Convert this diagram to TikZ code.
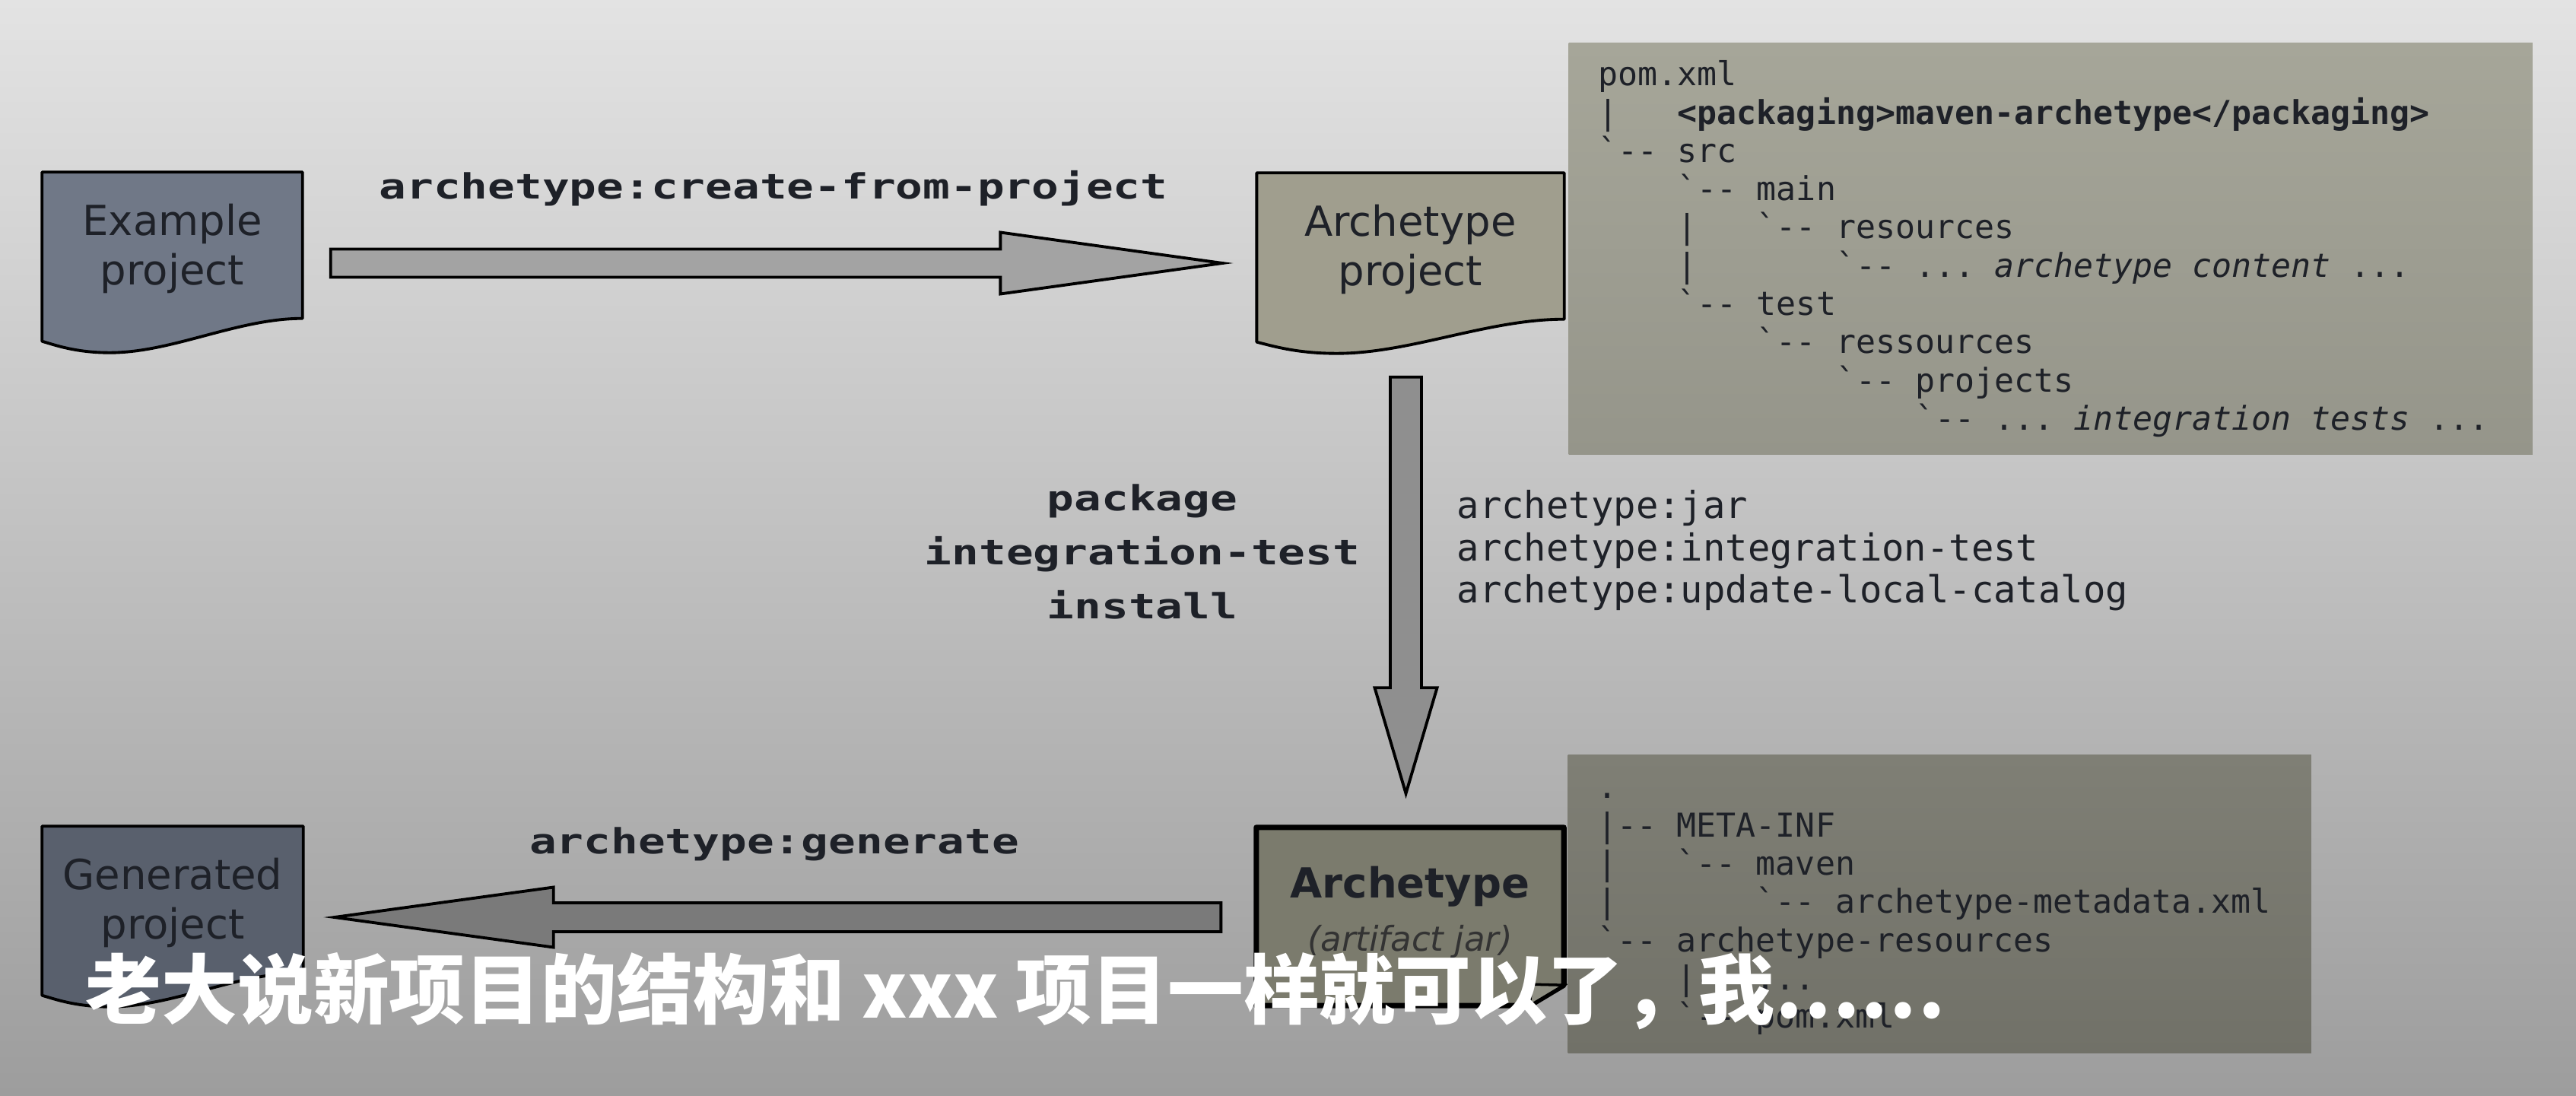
\documentclass[tikz,border=0pt]{standalone}
\usepackage{fontspec}
\setmainfont{DejaVu Sans}
\setmonofont{DejaVu Sans Mono}
\newfontfamily\cmdfont{DejaVu Sans Mono}
\newfontfamily\goalfont{DejaVu Sans Mono}[FakeStretch=1.3]
\newfontfamily\cjk{Noto Sans CJK SC}
\usetikzlibrary{calc,backgrounds}
\definecolor{bgtop}{HTML}{E3E3E3}
\definecolor{bgbot}{HTML}{9D9D9D}
\definecolor{ink}{HTML}{1E2128}
\definecolor{exfill}{HTML}{707887}
\definecolor{gpfill}{HTML}{59606D}
\definecolor{apfill}{HTML}{A09E8E}
\definecolor{arfill}{HTML}{7B7B6D}
\definecolor{cbatop}{HTML}{A6A699}
\definecolor{cbabot}{HTML}{95958A}
\definecolor{cbbtop}{HTML}{7F7F75}
\definecolor{cbbbot}{HTML}{717168}

% n character cells of the monospaced font
\newcommand\sk[1]{\hspace*{#1\fontcharwd\font`0}}
% outline of a document shape with a wavy bottom
\newcommand\docpath[2]{%
  \draw[docline,fill=#2] ($(#1.south west)+(0,0.21)$) -- (#1.north west) -- (#1.north east)
    -- ($(#1.south east)+(0,-0.09)$)
    .. controls ($(#1.south west)!0.75!(#1.south east)+(0,-0.09)$) and ($(#1.south west)!0.5!(#1.south east)+(0,0.36)$)
    .. ($(#1.south west)!0.26!(#1.south east)+(0,0.36)$)
    .. controls ($(#1.south west)!0.13!(#1.south east)+(0,0.36)$) and ($(#1.south west)!0.05!(#1.south east)+(0,0.26)$)
    .. ($(#1.south west)+(0,0.21)$) -- cycle;}
% block arrow: start, tip, half shaft, half head, head length, fill
\newcommand\blockarrow[6]{%
  \path (#2) coordinate (tip) ($(#2)!#5!(#1)$) coordinate (base);
  \draw[arrowline,fill=#6] ($(#1)!#3!90:(#2)$) -- ($(base)!#3!90:(tip)$) -- ($(base)!#4!90:(tip)$)
    -- (tip) -- ($(base)!#4!-90:(tip)$) -- ($(base)!#3!-90:(tip)$) -- ($(#1)!#3!-90:(#2)$) -- cycle;}

\begin{document}
\begin{tikzpicture}[x=1cm,y=-1cm,
  doc/.style={minimum height=2cm,inner sep=0pt,align=center,text=ink,
    font=\fontsize{15.5}{18.5}\selectfont},
  docline/.style={draw=black,line width=1.1pt,line join=round},
  arrowline/.style={draw=black,line width=1.1pt,line join=miter},
  codebox/.style={anchor=north west,inner xsep=0.39cm,inner ysep=0pt,align=left,text=ink,
    font=\ttfamily\fontsize{12.3}{14.3}\selectfont},
  goal/.style={inner sep=0pt,text=ink,font=\goalfont\bfseries\fontsize{13}{20.2}\selectfont},
  cmd/.style={inner sep=0pt,text=ink,font=\cmdfont\fontsize{13.9}{15.8}\selectfont}]
\useasboundingbox (0,0) rectangle (33.87,14.41);

\node[doc,minimum width=3.41cm] (ex) at (2.265,3.27) {Example\\project};
\node[doc,minimum width=4.03cm] (ap) at (18.545,3.28) {Archetype\\project};
\node[doc,minimum width=3.42cm] (gp) at (2.27,11.87) {Generated\\project};
\node[minimum width=4.03cm,minimum height=2.33cm,inner sep=0pt,align=center,text=ink] (ar) at (18.54,12.05)
  {\fontsize{15.5}{18.5}\selectfont\bfseries Archetype\\[0.2cm]
   \fontsize{12.8}{18.5}\selectfont\itshape\color{black!80}(artifact jar)\rule[-0.2cm]{0pt}{0pt}};

\node[codebox,top color=cbatop,bottom color=cbabot,text width=11.89cm,minimum height=5.41cm] (pom) at (20.62,0.56)
  {pom.xml\\
   |\sk3\textbf{<packaging>maven-archetype</packaging>}\\
   `--\sk1src\\
   \sk4`--\sk1main\\
   \sk4|\sk3`--\sk1resources\\
   \sk4|\sk7`--\sk1...\sk1\textit{archetype\sk1content}\sk1...\\
   \sk4`--\sk1test\\
   \sk8`--\sk1ressources\\
   \sk{12}`--\sk1projects\\
   \sk{16}`--\sk1...\sk1\textit{integration\sk1tests}\sk1...};
\node[codebox,top color=cbbtop,bottom color=cbbbot,text width=8.99cm,minimum height=3.92cm] (jar) at (20.61,9.92)
  {\vphantom{l}.\\
   |--\sk1META-INF\\
   |\sk3`--\sk1maven\\
   |\sk7`--\sk1archetype-metadata.xml\\
   `--\sk1archetype-resources\\
   \sk4|--\sk1...\\
   \sk4`--\sk1pom.xml};

\node[goal,anchor=base] (cfp) at (10.17,2.62) {archetype:create-from-project};
\node[goal,anchor=north,align=center] (phases) at (15.02,6.36) {package\\integration-test\\install};
\node[cmd,anchor=north west,align=left] (goals) at (19.15,6.44)
  {archetype:jar\\archetype:integration-test\\archetype:update-local-catalog};
\node[goal,anchor=base] (gen) at (10.18,11.22) {archetype:generate};

\begin{scope}[on background layer]
  \shade[top color=bgtop,bottom color=bgbot] (0,0) rectangle (33.87,14.41);
  \docpath{ex}{exfill}
  \docpath{ap}{apfill}
  \docpath{gp}{gpfill}
  \draw[line width=2pt,line join=round,fill=arfill] (ar.north west) -- (ar.north east)
    -- ($(ar.south east)+(0,-0.27)$) -- ($(ar.south east)+(-0.45,0)$) -- (ar.south west) -- cycle;
  \draw[line width=1pt,fill=arfill!85!white] ($(ar.south east)+(-0.45,0)$) -- ($(ar.south east)+(-0.42,-0.28)$)
    -- ($(ar.south east)+(0,-0.27)$) -- cycle;
\end{scope}

% arrows between the nodes
\coordinate (a1s) at ($(ex.east)+(0.37,0.19)$);
\coordinate (a1t) at ($(ap.west)+(-0.45,0.18)$);
\coordinate (a2s) at ($(ap.south)+(-0.06,0.67)$);
\coordinate (a2t) at ($(ar.north)+(-0.055,-0.445)$);
\coordinate (a3s) at ($(ar.west)+(-0.465,0.01)$);
\coordinate (a3t) at ($(gp.east)+(0.41,0.19)$);
\blockarrow{a1s}{a1t}{0.185cm}{0.405cm}{2.92cm}{black!36}
\blockarrow{a2s}{a2t}{0.205cm}{0.41cm}{1.39cm}{black!44}
\blockarrow{a3s}{a3t}{0.19cm}{0.395cm}{2.88cm}{black!52}

\node[anchor=west,inner sep=0pt,text=white] (sub) at (1.12,13.03)
  {\cjk\bfseries\fontsize{28.4}{34}\selectfont 老大说新项目的结构和 xxx 项目一样就可以了，我……};
\end{tikzpicture}
\end{document}
